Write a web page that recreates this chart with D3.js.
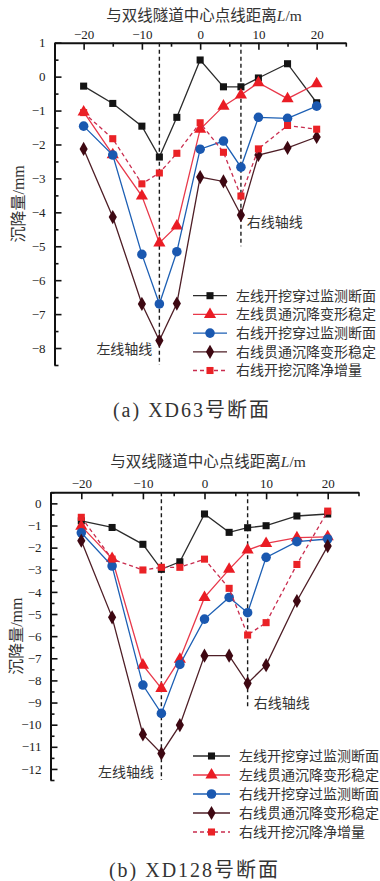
<!DOCTYPE html>
<html>
<head>
<meta charset="utf-8">
<script src="https://cdn.jsdelivr.net/npm/d3@7"></script>
<style>
  html, body { margin: 0; padding: 0; background: #fff; }
  #chart { width: 380px; height: 881px; }
  .tick text { font-family: "Liberation Serif", serif; font-size: 13px; fill: #222; }
</style>
</head>
<body>
<div id="chart"></div>
<script>
// Data
const distances = [-20, -15, -10, -7, -4, 0, 4, 7, 10, 15, 20];
const seriesNames = [
  "左线开挖穿过监测断面",
  "左线贯通沉降变形稳定",
  "右线开挖穿过监测断面",
  "右线贯通沉降变形稳定",
  "右线开挖沉降净增量"
];

// XD63
const xd63LeftPass = [-0.28, -0.79, -1.46, -2.37, -1.2, 0.49, -0.3, -0.3, -0.04, 0.38, -0.77];
const xd63LeftStable = [-1.04, -2.3, -3.52, -4.9, -4.4, -1.55, -0.87, -0.54, -0.18, -0.65, -0.21];
const xd63RightPass = [-1.46, -2.31, -5.24, -6.7, -5.16, -2.14, -1.9, -2.67, -1.2, -1.23, -0.87];
const xd63RightStable = [-2.13, -4.14, -6.7, -7.78, -6.69, -2.96, -3.09, -4.08, -2.31, -2.1, -1.78];
const xd63RightNet = [-1.06, -1.83, -3.16, -2.84, -2.26, -1.36, -2.23, -3.52, -2.13, -1.44, -1.55];

// XD128
const xd128LeftPass = [-0.79, -1.09, -1.85, -2.98, -2.64, -0.48, -1.31, -1.1, -1.01, -0.57, -0.48];
const xd128LeftStable = [-1.03, -2.49, -7.31, -8.36, -7.04, -4.25, -2.98, -2.11, -1.81, -1.55, -1.51];
const xd128RightPass = [-1.33, -2.83, -8.21, -9.49, -7.28, -5.23, -4.25, -4.94, -2.44, -1.73, -1.61];
const xd128RightStable = [-1.69, -5.15, -10.44, -11.3, -10.02, -6.88, -6.88, -8.13, -7.31, -4.41, -1.93];
const xd128RightNet = [-0.63, -2.52, -3.01, -2.89, -2.89, -2.52, -3.84, -5.95, -5.39, -2.76, -0.35];

const xDomain = [-25, 25];
const xMajorTicks = [-20, -10, 0, 10, 20];
const xMinorTicks = [-25, -15, -5, 5, 15, 25];

// Styles per series
const styles = [
  { line: "#2b2b2b", fill: "#141414", symbol: d3.symbolSquare, size: 50, dash: null },
  { line: "#e8384a", fill: "#ea1c24", symbol: d3.symbolTriangle, size: 64, dash: null },
  { line: "#1c5fb4", fill: "#1a58b0", symbol: d3.symbolCircle, size: 72, dash: null },
  { line: "#4e1e26", fill: "#3e0812", symbol: d3.symbolDiamond, size: 58, dash: null },
  { line: "#c92c4e", fill: "#ea2226", symbol: d3.symbolSquare, size: 50, dash: "4,3" }
];

const svg = d3
  .select("#chart")
  .append("svg")
  .attr("width", 380)
  .attr("height", 881);

function drawPanel(p) {
  const xScale = d3.scaleLinear().domain(xDomain).range(p.xRange);
  const yScale = d3.scaleLinear().domain(p.yDomain).range(p.yRange);
  const g = svg.append("g");

  // Title
  g.append("text")
    .attr("x", p.titleX)
    .attr("y", p.titleY)
    .attr("text-anchor", "middle")
    .style("font-family", "'Noto Sans CJK SC', sans-serif")
    .style("font-size", "15.5px")
    .attr("fill", "#333")
    .html('与双线隧道中心点线距离<tspan font-family="Liberation Serif" font-style="italic">L</tspan><tspan font-family="Liberation Serif">/m</tspan>');

  // Axis top
  const top = p.yRange[1];
  const left = p.xRange[0];
  g.append("g")
    .attr("transform", `translate(0,${top})`)
    .call(d3.axisTop(xScale).tickValues(xMinorTicks).tickSizeInner(-4).tickSizeOuter(0).tickFormat(""))
    .call((s) => s.select(".domain").remove());
  const xAx = g.append("g")
    .attr("transform", `translate(0,${top})`)
    .call(d3.axisTop(xScale).tickValues(xMajorTicks).tickSizeInner(-7).tickSizeOuter(0).tickPadding(4));
  xAx.select(".domain").attr("stroke-width", 2);

  // Axis left
  g.append("g")
    .attr("transform", `translate(${left},0)`)
    .call(d3.axisLeft(yScale).tickValues(p.yMinor).tickSizeInner(-4).tickSizeOuter(0).tickFormat(""))
    .call((s) => s.select(".domain").remove());
  const yAx = g.append("g")
    .attr("transform", `translate(${left},0)`)
    .call(d3.axisLeft(yScale).tickValues(p.yMajor).tickSizeInner(-7).tickSizeOuter(0).tickPadding(9));
  yAx.select(".domain").attr("stroke-width", 2);
  g.selectAll(".tick line").attr("stroke", "#111").attr("stroke-width", 1.6);
  g.selectAll(".domain").attr("stroke", "#111");

  // Y label
  g.append("text")
    .attr("transform", `translate(${p.yLabelX},${(p.yRange[0] + p.yRange[1]) / 2}) rotate(-90)`)
    .attr("text-anchor", "middle")
    .attr("dy", "0.35em")
    .style("font-family", "'Noto Sans CJK SC', sans-serif")
    .style("font-size", "16px")
    .attr("fill", "#333")
    .html('沉降量<tspan font-family="Liberation Serif">/mm</tspan>');

  // Axis lines (dashed verticals)
  [[-7, p.yDomain[0]], [7, p.rightAxisEnd]].forEach(([xv, yEnd]) => {
    g.append("line")
      .attr("x1", xScale(xv))
      .attr("x2", xScale(xv))
      .attr("y1", top)
      .attr("y2", yScale(yEnd))
      .attr("stroke", "#1a1a1a")
      .attr("stroke-width", 1.4)
      .attr("stroke-dasharray", "4,3");
  });

  const annot = (txt, xv, yv, anchor) =>
    g.append("text")
      .attr("x", xScale(xv))
      .attr("y", yScale(yv))
      .attr("dy", "0.35em")
      .attr("text-anchor", anchor)
      .style("font-family", "'Noto Sans CJK SC', sans-serif")
      .style("font-size", "14px")
      .attr("fill", "#333")
      .text(txt);
  annot("右线轴线", 8, p.rightLabelY, "start");
  annot("左线轴线", -8.2, p.leftLabelY, "end");

  // Series
  const line = d3.line().x((d) => xScale(d[0])).y((d) => yScale(d[1]));
  p.series.forEach((vals, i) => {
    const st = styles[i];
    const pts = distances.map((d, j) => [d, vals[j]]);
    g.append("path")
      .datum(pts)
      .attr("d", line)
      .attr("fill", "none")
      .attr("stroke", st.line)
      .attr("stroke-width", 1.3)
      .attr("stroke-dasharray", st.dash);
    g.selectAll(null)
      .data(pts)
      .join("path")
      .attr("d", d3.symbol(st.symbol, st.size))
      .attr("transform", (d) => `translate(${xScale(d[0])},${yScale(d[1])})`)
      .attr("fill", st.fill);
  });

  // Legend
  const legend = g.append("g");
  seriesNames.forEach((name, i) => {
    const st = styles[i];
    const y = p.legendY + i * p.legendStep;
    legend.append("line")
      .attr("x1", p.legendX)
      .attr("x2", p.legendX + p.legendLen)
      .attr("y1", y)
      .attr("y2", y)
      .attr("stroke", st.line)
      .attr("stroke-width", 1.3)
      .attr("stroke-dasharray", st.dash);
    legend.append("path")
      .attr("d", d3.symbol(st.symbol, st.size)())
      .attr("transform", `translate(${p.legendX + p.legendLen / 2},${y})`)
      .attr("fill", st.fill);
    legend.append("text")
      .attr("x", p.legendX + p.legendLen + 9)
      .attr("y", y)
      .attr("dy", "0.35em")
      .style("font-family", "'Noto Sans CJK SC', sans-serif")
      .style("font-size", "14px")
      .attr("fill", "#333")
      .text(name);
  });

  // Caption
  g.append("text")
    .attr("x", p.captionX)
    .attr("y", p.captionY)
    .attr("dy", "0.35em")
    .attr("text-anchor", "middle")
    .style("font-family", "'Liberation Serif', 'Noto Sans CJK SC', serif")
    .style("font-size", "20px")
    .style("letter-spacing", "2px")
    .attr("fill", "#333")
    .text(p.caption);
}

drawPanel({
  xRange: [54.5, 345.8],
  yDomain: [-8.5, 1],
  yRange: [365, 42.7],
  yMajor: d3.range(-8, 2, 1),
  yMinor: d3.range(-8.5, 1, 1),
  series: [xd63LeftPass, xd63LeftStable, xd63RightPass, xd63RightStable, xd63RightNet],
  titleX: 204,
  titleY: 21,
  yLabelX: 18,
  rightAxisEnd: -5,
  rightLabelY: -4.29,
  leftLabelY: -8.04,
  legendX: 193,
  legendLen: 34,
  legendY: 295.7,
  legendStep: 18.7,
  caption: "(a) XD63号断面",
  captionX: 192,
  captionY: 410
});

drawPanel({
  xRange: [50.5, 358.5],
  yDomain: [-12.5, 0.5],
  yRange: [780, 492.3],
  yMajor: d3.range(-12, 1, 1),
  yMinor: d3.range(-12.5, 0.6, 1),
  series: [xd128LeftPass, xd128LeftStable, xd128RightPass, xd128RightStable, xd128RightNet],
  titleX: 208,
  titleY: 467,
  yLabelX: 16,
  rightAxisEnd: -9.3,
  rightLabelY: -9.02,
  leftLabelY: -12.13,
  legendX: 193,
  legendLen: 37,
  legendY: 756,
  legendStep: 19,
  caption: "(b) XD128号断面",
  captionX: 194.5,
  captionY: 870
});
</script>
</body>
</html>
